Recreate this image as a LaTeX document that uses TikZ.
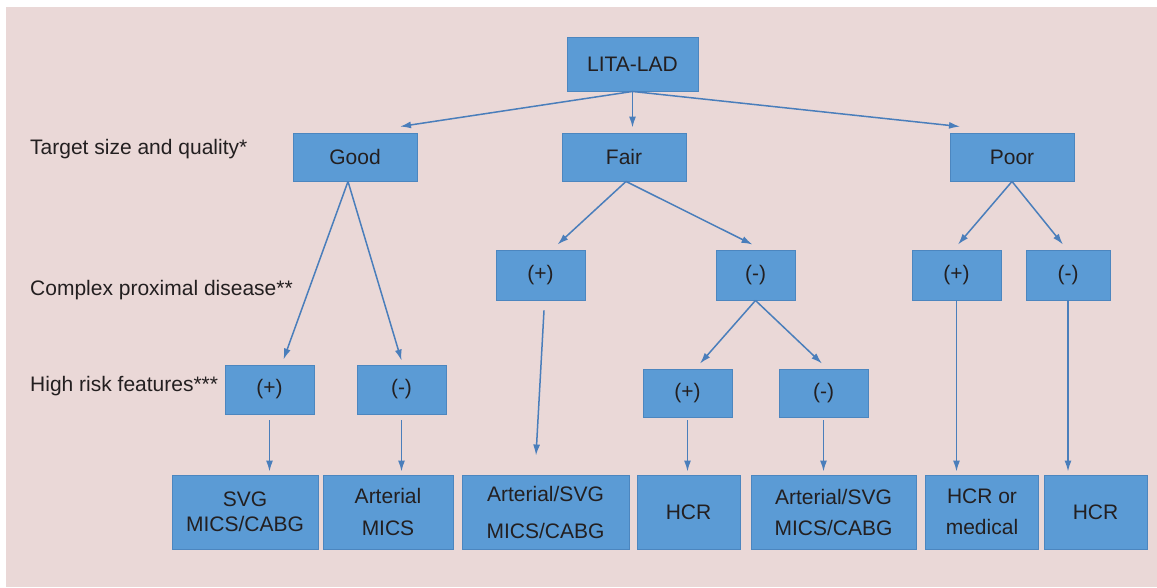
\documentclass[tikz,border=0pt]{standalone}
\usepackage{fontspec}
\setmainfont{Liberation Sans}
\usetikzlibrary{arrows.meta}

\definecolor{bgpink}{HTML}{EAD8D7}
\definecolor{boxblue}{HTML}{5B9BD5}
\definecolor{boxline}{HTML}{4C86BF}
\definecolor{arrowblue}{HTML}{4A7EBB}
\definecolor{txtgray}{HTML}{231F20}

\tikzset{
  box/.style={draw=boxline, fill=boxblue, text=txtgray, line width=0.9pt,
    inner sep=0pt, align=center, font=\fontsize{21}{25}\selectfont},
  lvl/.style={anchor=base west, text=txtgray, inner sep=0pt,
    font=\fontsize{21}{25}\selectfont},
  arr/.style={draw=arrowblue, line width=1.5pt, -{Latex[length=11pt,width=7pt]}}
}

\begin{document}
\begin{tikzpicture}[x=1pt,y=-1pt]
                    \useasboundingbox (0,0) rectangle (1157,587);
                    \fill[bgpink] (6,7) rectangle (1157,587);

                    % row labels
                    \node[lvl] (lsize) at (30,154) {Target size and quality*};
                    \node[lvl] (lprox) at (30,295) {Complex proximal disease**};
                    \node[lvl] (lrisk) at (30,391) {High risk features***};

                    % boxes
                    \node[box, minimum width=131, minimum height=54] (lita) at (632.5,64) {LITA-LAD};
                    \node[box, minimum width=124, minimum height=48] (good) at (355,157) {Good};
                    \node[box, minimum width=124, minimum height=48] (fair) at (624,157) {Fair};
                    \node[box, minimum width=124, minimum height=48] (poor) at (1012,157) {Poor};

                    \node[box, minimum width=89, minimum height=50] (fairp) at (540.5,275) {(+)};
                    \node[box, minimum width=79, minimum height=50] (fairm) at (755.5,275) {(-)};
                    \node[box, minimum width=89, minimum height=50] (poorp) at (956.5,275) {(+)};
                    \node[box, minimum width=84, minimum height=50] (poorm) at (1068,275) {(-)};

                    \node[box, minimum width=89, minimum height=49] (highp) at (269.5,389.5) {(+)};
                    \node[box, minimum width=89, minimum height=49] (highm) at (401.5,389.5) {(-)};
                    \node[box, minimum width=89, minimum height=48] (fairmp) at (687.5,393) {(+)};
                    \node[box, minimum width=89, minimum height=48] (fairmm) at (823.5,393) {(-)};

                    \node[box, minimum width=146, minimum height=74] (svg) at (245,512) {SVG\\MICS/CABG};
                    \node[box, minimum width=130, minimum height=74] (artmics) at (388,512) {Arterial\\[7pt]MICS};
                    \node[box, minimum width=167, minimum height=74] (artsvga) at (545.5,512) {Arterial/SVG\\[12pt]MICS/CABG};
                    \node[box, minimum width=103, minimum height=74] (hcra) at (688.5,512) {HCR};
                    \node[box, minimum width=165, minimum height=74] (artsvgb) at (833.5,512) {Arterial/SVG\\[6pt]MICS/CABG};
                    \node[box, minimum width=113, minimum height=74] (hcrmed) at (982,512) {HCR or\\[6pt]medical};
                    \node[box, minimum width=103, minimum height=74] (hcrb) at (1095.5,512) {HCR};

                    % arrows
                    \draw[arr] (lita.south) -- ([xshift=45pt,yshift=6pt]good.north);
                    \draw[arr] (lita.south) -- ([yshift=5pt]lita.south |- fair.north);
                    \draw[arr] (lita.south) -- ([xshift=-52pt,yshift=6pt]poor.north);

                    \draw[arr] ([xshift=-7pt]good.south) -- ([xshift=14pt,yshift=5pt]highp.north);
                    \draw[arr] ([xshift=-7pt]good.south) -- ([yshift=4pt]highm.north);
                    \draw[arr] ([xshift=2pt]fair.south) -- ([xshift=17pt,yshift=5pt]fairp.north);
                    \draw[arr] ([xshift=2pt]fair.south) -- ([xshift=-3pt,yshift=5pt]fairm.north);
                    \draw[arr] (poor.south) -- ([xshift=1.5pt,yshift=5pt]poorp.north);
                    \draw[arr] (poor.south) -- ([xshift=-5pt,yshift=5pt]poorm.north);
                    \draw[arr] (fairm.south) -- ([xshift=12.5pt,yshift=5pt]fairmp.north);
                    \draw[arr] (fairm.south) -- ([xshift=-1.5pt,yshift=5pt]fairmm.north);

                    \draw[arr] ([xshift=3.5pt,yshift=-10pt]fairp.south) -- ([xshift=-9.5pt,yshift=19pt]artsvga.north);
                    \draw[arr] ([yshift=-6pt]highp.south) -- ([yshift=3pt]highp.south |- svg.north);
                    \draw[arr] ([yshift=-6pt]highm.south) -- ([yshift=3pt]highm.south |- artmics.north);
                    \draw[arr] ([yshift=-3pt]fairmp.south) -- ([yshift=3pt]fairmp.south |- hcra.north);
                    \draw[arr] ([yshift=-3pt]fairmm.south) -- ([yshift=3pt]fairmm.south |- artsvgb.north);
                    \draw[arr] (poorp.south) -- ([yshift=3pt]poorp.south |- hcrmed.north);
                    \draw[arr] (poorm.south) -- ([yshift=3pt]poorm.south |- hcrb.north);
                \end{tikzpicture}
\end{document}
